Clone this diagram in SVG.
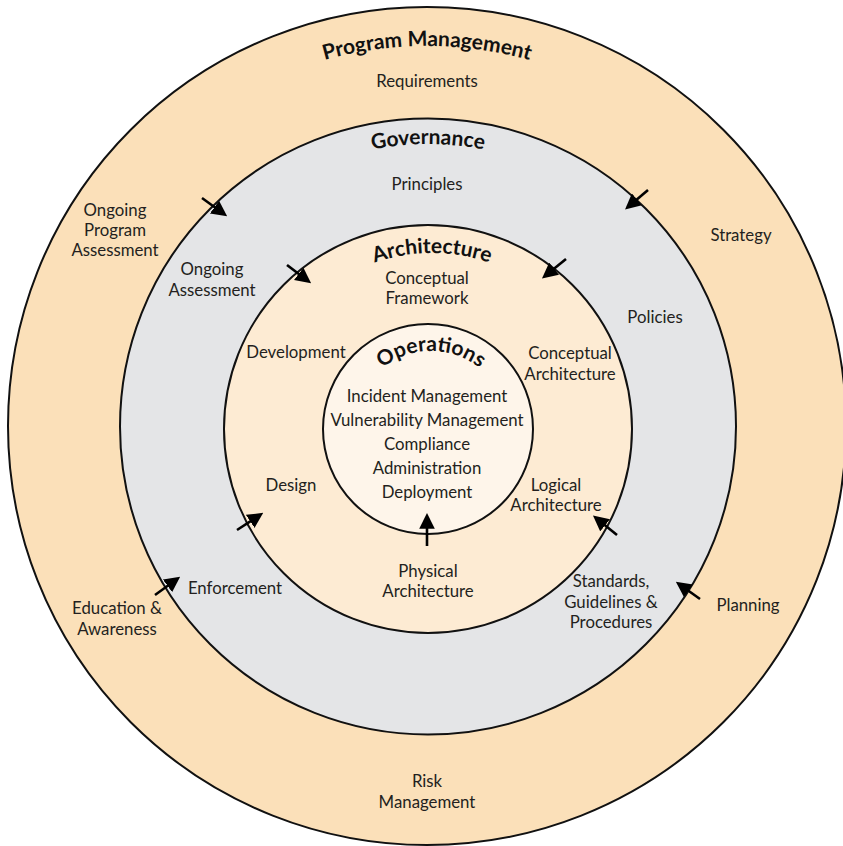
<svg xmlns="http://www.w3.org/2000/svg" width="843" height="846" viewBox="0 0 843 846">
<defs>
<style>
.ring{stroke:#111;stroke-width:2}
.lbl{font-family:Lato,"Noto Sans","Liberation Sans",sans-serif;font-size:16.8px;fill:#231f20;text-anchor:middle}
.ttl{font-family:Lato,"Noto Sans","Liberation Sans",sans-serif;font-size:21px;font-weight:bold;fill:#111;text-anchor:middle}
.arr{stroke:#000;stroke-width:2.6;fill:none;marker-end:url(#ah)}
</style>
<marker id="ah" markerWidth="6" markerHeight="6" refX="4.5" refY="3" orient="auto" markerUnits="strokeWidth">
<path d="M0,0 L6,3 L0,6 Z" fill="#000"/>
</marker>
<path id="pPM" d="M47,426 A380,380 0 0 1 807,426"/>
<path id="pGov" d="M146,426 A282,282 0 0 1 710,426"/>
<path id="pArch" d="M256,429 A176,176 0 0 1 608,429"/>
<path id="pOps" d="M353,429 A78,78 0 0 1 509,429"/>
</defs>
<rect width="843" height="846" fill="#fff"/>
<g id="program-management">
<circle class="ring" cx="427" cy="426" r="419" fill="#fbe0b9"/>
<text class="ttl"><textPath href="#pPM" startOffset="50%">Program Management</textPath></text>
<text class="lbl" x="427" y="87">Requirements</text>
<text class="lbl" x="115" y="216">Ongoing</text>
<text class="lbl" x="115" y="236">Program</text>
<text class="lbl" x="115" y="256">Assessment</text>
<text class="lbl" x="741" y="241">Strategy</text>
<text class="lbl" x="117" y="614">Education &amp;</text>
<text class="lbl" x="117" y="635">Awareness</text>
<text class="lbl" x="748" y="611">Planning</text>
<text class="lbl" x="427" y="787">Risk</text>
<text class="lbl" x="427" y="808">Management</text>
</g>
<g id="governance">
<circle class="ring" cx="428" cy="426.5" r="308" fill="#e4e5e7"/>
<text class="ttl"><textPath href="#pGov" startOffset="50%">Governance</textPath></text>
<text class="lbl" x="427" y="190">Principles</text>
<text class="lbl" x="212" y="275">Ongoing</text>
<text class="lbl" x="212" y="296">Assessment</text>
<text class="lbl" x="655" y="323">Policies</text>
<text class="lbl" x="235" y="594">Enforcement</text>
<text class="lbl" x="611" y="587">Standards,</text>
<text class="lbl" x="611" y="608">Guidelines &amp;</text>
<text class="lbl" x="611" y="628">Procedures</text>
</g>
<g id="architecture">
<circle class="ring" cx="428" cy="429" r="204" fill="#fdebd3"/>
<text class="ttl"><textPath href="#pArch" startOffset="50%">Architecture</textPath></text>
<text class="lbl" x="427" y="284">Conceptual</text>
<text class="lbl" x="427" y="304">Framework</text>
<text class="lbl" x="296" y="358">Development</text>
<text class="lbl" x="570" y="359">Conceptual</text>
<text class="lbl" x="570" y="380">Architecture</text>
<text class="lbl" x="291" y="491">Design</text>
<text class="lbl" x="556" y="491">Logical</text>
<text class="lbl" x="556" y="511">Architecture</text>
<text class="lbl" x="428" y="577">Physical</text>
<text class="lbl" x="428" y="597">Architecture</text>
</g>
<g id="operations">
<circle class="ring" cx="428" cy="429" r="105" fill="#fef5ea"/>
<text class="ttl"><textPath href="#pOps" startOffset="50%">Operations</textPath></text>
<text class="lbl" x="427" y="402">Incident Management</text>
<text class="lbl" x="427" y="426">Vulnerability Management</text>
<text class="lbl" x="427" y="450">Compliance</text>
<text class="lbl" x="427" y="474">Administration</text>
<text class="lbl" x="427" y="498">Deployment</text>
</g>
<g id="connectors">
<line class="arr" x1="202" y1="198" x2="224" y2="214"/>
<line class="arr" x1="287" y1="265" x2="308" y2="281"/>
<line class="arr" x1="648" y1="190" x2="628" y2="207"/>
<line class="arr" x1="566" y1="259" x2="545" y2="276"/>
<line class="arr" x1="155" y1="595" x2="177" y2="579"/>
<line class="arr" x1="237" y1="530" x2="260" y2="515"/>
<line class="arr" x1="617" y1="535" x2="596" y2="518"/>
<line class="arr" x1="700" y1="599" x2="679" y2="584"/>
<line class="arr" x1="427" y1="546" x2="427" y2="517"/>
</g>
</svg>
